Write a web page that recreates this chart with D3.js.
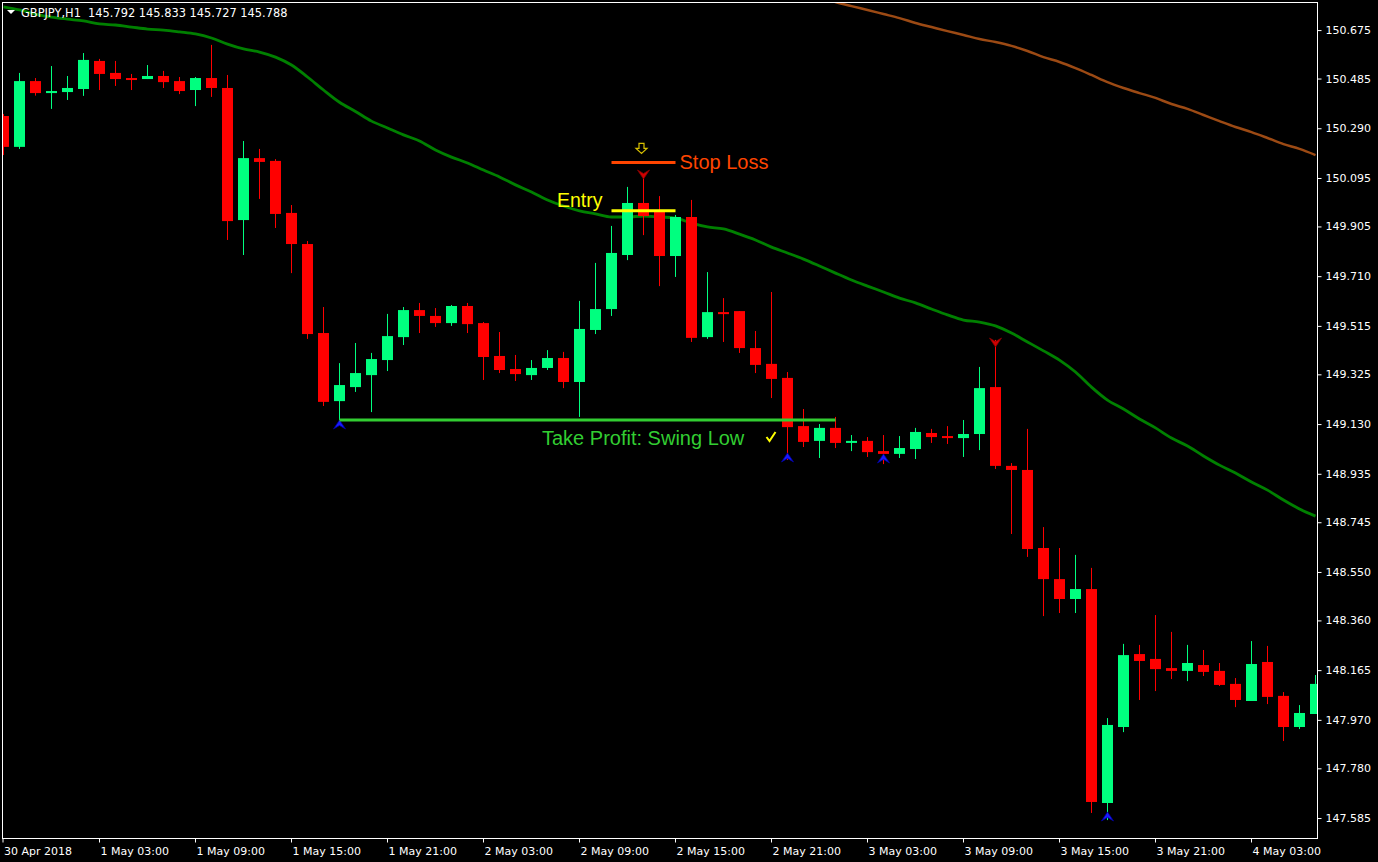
<!DOCTYPE html>
<html><head><meta charset="utf-8">
<script src="https://cdn.jsdelivr.net/npm/d3@7"></script>
<style>html,body{margin:0;padding:0;background:#000;overflow:hidden}</style>
</head><body>
<svg id="c" width="1378" height="862"></svg>
<script>
// ---- data ----
const firstBar = -1;
const openP = [150.338,150.217,150.475,150.428,150.432,150.444,150.554,150.507,150.487,150.483,150.495,150.475,150.440,150.487,150.448,149.930,150.173,150.162,149.958,149.836,149.487,149.220,149.275,149.322,149.381,149.471,149.577,149.554,149.526,149.593,149.526,149.397,149.346,149.322,149.350,149.389,149.295,149.499,149.581,149.793,149.997,149.962,149.789,149.942,149.471,149.569,149.573,149.428,149.366,149.311,149.122,149.064,149.115,149.056,149.064,149.024,149.013,149.032,149.095,149.083,149.075,149.091,149.275,148.966,148.950,148.644,148.522,148.444,148.483,147.644,147.942,148.228,148.209,148.173,148.162,148.185,148.162,148.111,148.044,148.197,148.064,147.942,147.993];
const highP = [150.346,150.507,150.487,150.534,150.495,150.585,150.562,150.554,150.503,150.538,150.515,150.491,150.491,150.617,150.499,150.240,150.209,150.169,149.989,149.848,149.589,149.369,149.448,149.409,149.562,149.589,149.605,149.585,149.597,149.605,149.530,149.491,149.401,149.381,149.420,149.413,149.613,149.762,149.907,150.060,150.107,150.024,149.950,150.009,149.726,149.624,149.573,149.495,149.648,149.334,149.189,149.130,149.158,149.087,149.079,149.087,149.083,149.115,149.111,149.122,149.146,149.354,149.460,148.977,149.111,148.726,148.644,148.617,148.566,147.977,148.268,148.264,148.381,148.315,148.264,148.244,148.193,148.134,148.279,148.260,148.079,148.028,148.146];
const lowP = [150.185,150.209,150.418,150.366,150.401,150.417,150.440,150.456,150.440,150.483,150.448,150.424,150.377,150.413,149.852,149.793,150.013,149.899,149.722,149.464,149.201,149.146,149.256,149.177,149.338,149.440,149.487,149.511,149.515,149.487,149.303,149.330,149.299,149.303,149.342,149.271,149.158,149.483,149.554,149.773,149.871,149.671,149.707,149.452,149.464,149.452,149.409,149.330,149.232,148.989,149.040,148.997,149.036,149.024,149.001,148.973,148.997,148.993,149.056,149.052,149.001,149.028,148.954,148.699,148.609,148.377,148.389,148.389,147.605,147.577,147.922,148.048,148.083,148.130,148.122,148.142,148.103,148.020,148.044,148.032,147.887,147.934,147.993];
const closeP = [150.217,150.475,150.428,150.436,150.448,150.558,150.503,150.483,150.483,150.495,150.471,150.436,150.487,150.448,149.926,150.173,150.158,149.954,149.836,149.483,149.217,149.283,149.330,149.385,149.475,149.577,149.554,149.526,149.593,149.522,149.393,149.342,149.326,149.350,149.389,149.295,149.503,149.581,149.801,149.997,149.946,149.789,149.942,149.468,149.569,149.566,149.428,149.362,149.307,149.118,149.060,149.115,149.056,149.064,149.020,149.013,149.036,149.099,149.079,149.075,149.091,149.271,148.966,148.950,148.640,148.522,148.444,148.483,147.648,147.950,148.224,148.201,148.169,148.162,148.193,148.158,148.107,148.048,148.189,148.060,147.942,147.997,148.111];
const maGreen = [150.766,150.754,150.738,150.726,150.718,150.711,150.699,150.695,150.687,150.679,150.675,150.668,150.660,150.644,150.620,150.601,150.589,150.569,150.538,150.491,150.440,150.392,150.356,150.318,150.291,150.264,150.240,150.205,150.177,150.154,150.126,150.099,150.068,150.040,150.009,149.985,149.966,149.954,149.942,149.942,149.946,149.942,149.938,149.918,149.903,149.895,149.875,149.852,149.824,149.801,149.777,149.750,149.722,149.695,149.671,149.648,149.624,149.605,149.581,149.558,149.538,149.530,149.515,149.487,149.452,149.417,149.381,149.334,149.275,149.224,149.189,149.150,149.115,149.075,149.044,149.005,148.969,148.938,148.903,148.871,148.832,148.797,148.769];
const maBrownStart = 50;
const maBrown = [150.805,150.785,150.769,150.754,150.738,150.722,150.703,150.687,150.671,150.656,150.640,150.628,150.613,150.593,150.569,150.550,150.526,150.499,150.471,150.448,150.428,150.409,150.385,150.366,150.342,150.318,150.295,150.275,150.252,150.228,150.209,150.185];
const priceTicks = [150.675,150.485,150.290,150.095,149.905,149.710,149.515,149.325,149.130,148.935,148.745,148.550,148.360,148.165,147.970,147.780,147.585];
const timeTickBars = [-1,5,11,17,23,29,35,41,47,53,59,65,71,77];
const timeTickLabels = ["30 Apr 2018","1 May 03:00","1 May 09:00","1 May 15:00","1 May 21:00","2 May 03:00","2 May 09:00","2 May 15:00","2 May 21:00","3 May 03:00","3 May 09:00","3 May 15:00","3 May 21:00","4 May 03:00"];
const headerText = "GBPJPY,H1  145.792 145.833 145.727 145.788";
// fractal arrows: bar, tip price, direction
const fractalBars = [20,48,54,68,39,61];
const fractalPrices = [149.146,149.017,149.013,147.609,150.091,149.432];
const fractalDirs = ["up","up","up","up","down","down"];
// trade levels
const entryPrice = 149.967, stopPrice = 150.156, tpPrice = 149.146;
const levelBars = {entry:[37,41], stop:[37,41], tp:[20,51]};

// ---- scales ----
const W = 1378, H = 862;
const L = 3, R = 1318, T = 3, B = 838;
const x = d3.scaleLinear().domain([-1, 81]).range([3.5, 1315.5]);
const y = d3.scaleLinear().domain([150.793, 147.5]).range([0, (150.793 - 147.5) * 255]);

const svg = d3.select("#c");
svg.append("rect").attr("width", W).attr("height", H).attr("fill", "#000");
svg.append("defs").append("clipPath").attr("id","pc").append("rect")
  .attr("x", L).attr("y", T).attr("width", R - L).attr("height", B - T);
const g = svg.append("g").attr("clip-path","url(#pc)");

const bars = d3.range(openP.length).map(i => ({
  k: firstBar + i, o: openP[i], h: highP[i], l: lowP[i], c: closeP[i]
}));
const UP = "#00ff7f", DN = "#ff0000";

// MA lines
const line = d3.line().x(d => x(d[0])).y(d => y(d[1])).curve(d3.curveMonotoneX);
g.append("path").datum(maBrown.map((v,i)=>[maBrownStart+i, v]))
  .attr("d", line).attr("fill","none").attr("stroke","#9c4a14").attr("stroke-width",2.5);
g.append("path").datum(maGreen.map((v,i)=>[firstBar+i, v]))
  .attr("d", line).attr("fill","none").attr("stroke","#008000").attr("stroke-width",2.8);

// candles
const cg = g.append("g");
cg.selectAll("rect.w").data(bars).join("rect").attr("class","w")
  .attr("x", d => Math.round(x(d.k) - 0.5)).attr("width", 1)
  .attr("y", d => y(d.h)).attr("height", d => Math.max(1, y(d.l) - y(d.h)))
  .attr("fill", d => d.c >= d.o ? UP : DN);
cg.selectAll("rect.b").data(bars).join("rect").attr("class","b")
  .attr("x", d => Math.round(x(d.k) - 5.5)).attr("width", 11)
  .attr("y", d => y(Math.max(d.o, d.c)))
  .attr("height", d => Math.max(2, Math.abs(y(d.o) - y(d.c))))
  .attr("fill", d => d.c >= d.o ? UP : DN);

// fractal arrows
fractalBars.forEach((b, i) => {
  const cx = x(b), ty = y(fractalPrices[i]);
  if (fractalDirs[i] === "up") {
    g.append("path").attr("d", `M${cx},${ty} L${cx+6},${ty+9} L${cx},${ty+5.5} L${cx-6},${ty+9} Z`)
      .attr("fill","#1a1aff").attr("stroke","#0000a0").attr("stroke-width",0.8);
  } else {
    g.append("path").attr("d", `M${cx},${ty} L${cx+6},${ty-9} L${cx},${ty-5.5} L${cx-6},${ty-9} Z`)
      .attr("fill","#d00000").attr("stroke","#800000").attr("stroke-width",0.8);
  }
});

// trade level lines
g.append("line").attr("x1", x(levelBars.tp[0])).attr("x2", x(levelBars.tp[1]))
  .attr("y1", y(tpPrice)).attr("y2", y(tpPrice)).attr("stroke","#32cd32").attr("stroke-width",3);
g.append("line").attr("x1", x(levelBars.entry[0])).attr("x2", x(levelBars.entry[1]))
  .attr("y1", y(entryPrice)).attr("y2", y(entryPrice)).attr("stroke","#ffff00").attr("stroke-width",3);
g.append("line").attr("x1", x(levelBars.stop[0])).attr("x2", x(levelBars.stop[1]))
  .attr("y1", y(stopPrice)).attr("y2", y(stopPrice)).attr("stroke","#ff4500").attr("stroke-width",3);

// labels
const lbl = (t, px, py, size, col) => g.append("text").text(t).attr("x", px).attr("y", py)
  .attr("font-family","Liberation Sans, Arial, sans-serif").attr("font-size", size).attr("fill", col);
lbl("Stop Loss", x(levelBars.stop[1]) + 4, y(stopPrice) + 7, 20, "#ff4500");
lbl("Entry", 557, y(entryPrice) - 4, 19.5, "#ffff00");
lbl("Take Profit: Swing Low", 542, y(tpPrice) + 25, 20, "#32cd32");

// hollow down arrow above stop
const ax = x(39) - 2, ay = y(stopPrice) - 19;
g.append("path").attr("d", `M${ax-2.5},${ay} L${ax+2.5},${ay} L${ax+2.5},${ay+5} L${ax+5.5},${ay+5} L${ax},${ay+10} L${ax-5.5},${ay+5} L${ax-2.5},${ay+5} Z`)
  .attr("fill","none").attr("stroke","#d8c000").attr("stroke-width",1.2);
// check mark
const kx = x(48) - 21, ky = y(tpPrice) + 12;
g.append("path").attr("d", `M${kx},${ky+5} L${kx+3},${ky+9} L${kx+9},${ky}`)
  .attr("fill","none").attr("stroke","#ffff00").attr("stroke-width",2);

// header
g.append("path").attr("d","M7,10 L15,10 L11,14 Z").attr("fill","#fff");
g.append("text").text(headerText).attr("x",21).attr("y",17)
  .attr("font-family","DejaVu Sans, sans-serif").attr("font-size",11.4).attr("fill","#fff")
  .attr("xml:space","preserve").style("white-space","pre");

// frame
svg.append("rect").attr("x",2.5).attr("y",2.5).attr("width",1315).attr("height",836)
  .attr("fill","none").attr("stroke","#fff").attr("stroke-width",1);

// price axis
const yAxis = d3.axisRight(y).tickValues(priceTicks).tickFormat(d3.format(".3f")).tickSize(4).tickPadding(4);
const ya = svg.append("g").attr("transform","translate(1317.5,0)").call(yAxis);
ya.select(".domain").remove();
ya.selectAll("line").attr("stroke","#fff");
ya.selectAll("text").attr("fill","#fff").attr("font-family","DejaVu Sans, sans-serif").attr("font-size",11);

// time axis
const xAxis = d3.axisBottom(x).tickValues(timeTickBars).tickFormat((d,i)=>timeTickLabels[i]).tickSize(4);
const xa = svg.append("g").attr("transform","translate(0,838.5)").call(xAxis);
xa.select(".domain").remove();
xa.selectAll(".tick").attr("transform", d => `translate(${d === -1 ? 3 : Math.round(x(d)) - 0.5},0)`);
xa.selectAll("line").attr("stroke","#fff");
xa.selectAll("text").attr("fill","#fff").attr("font-family","DejaVu Sans, sans-serif").attr("font-size",11)
  .attr("text-anchor","start").attr("x",1).attr("y",16.5).attr("dy",0);
</script>
</body></html>
